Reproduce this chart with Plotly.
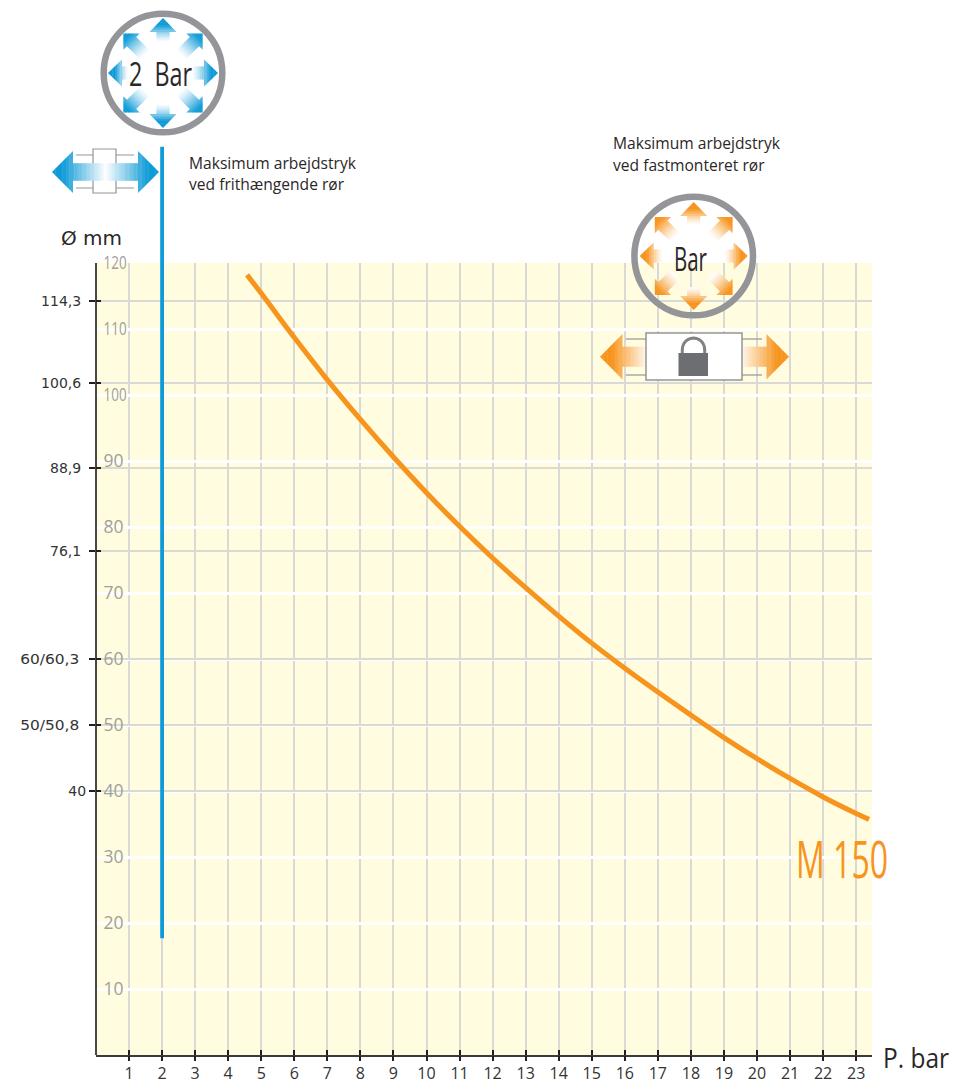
import math
import plotly.graph_objects as go

W, H = 960, 1084
L, R, T, B = 96, 872, 263, 1055

x_ticks = list(range(1, 24))
y_ticks = list(range(10, 121, 10))
pipe_vals = [40, 50, 60, 76.3, 89, 101.8, 114.3]
pipe_text = ["40", "50/50,8", "60/60,3", "76,1", "88,9", "100,6", "114,3"]

curve_x = [4.57, 5, 6, 7, 8, 9, 10, 11, 12, 13, 14, 15, 16, 17, 18, 19, 20, 21, 22, 23, 23.39]
curve_y = [118.2, 115.4, 108.7, 102.3, 96.3, 90.6, 85.2, 80.1, 75.3, 70.8, 66.5, 62.4, 58.6, 55.0, 51.5, 48.1, 44.9, 41.9, 39.1, 36.6, 35.7]
free_x = [2, 2]
free_y = [137.6, 17.7]

BLUE = "#0f9bd7"
ORANGE = "#f7941d"
GREY = "#939598"
BG = "#fffcdf"
GRID = "#d9d9d6"
TXT = "#2b2728"

fig = go.Figure()
fig.add_trace(go.Scatter(x=curve_x, y=curve_y, mode="lines", line=dict(color=ORANGE, width=5, shape="spline"),
                         showlegend=False, hoverinfo="skip"))
fig.add_trace(go.Scatter(x=[None], y=[None], yaxis="y2", showlegend=False, hoverinfo="skip"))
fig.add_trace(go.Scatter(x=[None], y=[None], xaxis="x2", yaxis="y3", showlegend=False, hoverinfo="skip"))

shapes, annos = [], []

# the free-hanging limit rises above the plot area, so it is a shape on the x axis scale
shapes.append(dict(type="line", xref="x", yref="paper", x0=free_x[0], x1=free_x[1],
                   y0=free_y[0] / 120, y1=free_y[1] / 120, line=dict(color=BLUE, width=3.8), layer="above"))

def px(x, y):
    return dict(xref="paper", yref="paper", x=(x - L) / (R - L), y=(B - y) / (B - T))

def poly(points, fill=None):
    d = "M" + " L".join(f"{(x-L)/(R-L):.5f},{(B-y)/(B-T):.5f}" for x, y in points) + " Z"
    shapes.append(dict(type="path", xref="paper", yref="paper", path=d, fillcolor=fill,
                       line=dict(width=0), layer="above"))

def mix(c, t):
    c = c.lstrip("#")
    rgb = [int(c[i:i+2], 16) for i in (0, 2, 4)]
    return "rgb(" + ",".join(str(round(255 + (v - 255) * t)) for v in rgb) + ")"

def arrow(cx, cy, ang, r0, r1, shaft, head, headlen, color, n=18, tmin=0.0, power=1.3):
    a = math.radians(ang)
    ux, uy = math.cos(a), math.sin(a)
    vx, vy = -uy, ux
    P = lambda s, w: (cx + ux * s + vx * w, cy + uy * s + vy * w)
    neck = r1 - headlen
    full_at = neck + headlen * 0.5
    def width(s):
        return shaft if s < neck else head * (r1 - s) / headlen
    for i in range(n):
        s0 = r0 + (neck - r0) * i / n
        s1 = r0 + (neck - r0) * (i + 1) / n + 0.35
        t = tmin + (1 - tmin) * (((s0 + s1) / 2 - r0) / (full_at - r0)) ** power
        poly([P(s0, -shaft), P(s1, -shaft), P(s1, shaft), P(s0, shaft)], fill=mix(color, t))
    m = 6
    for i in range(m):
        s0 = neck + headlen * i / m
        s1 = neck + headlen * (i + 1) / m
        t = min(1.0, tmin + (1 - tmin) * (((s0 + s1) / 2 - r0) / (full_at - r0)) ** power)
        s1b = min(r1, s1 + 0.35)
        poly([P(s0, -width(s0)), P(s1b, -width(s1b)), P(s1b, width(s1b)), P(s0, width(s0))], fill=mix(color, t))

def ring(cx, cy, r, lw):
    shapes.append(dict(type="circle", xref="paper", yref="paper", x0=(cx-r-L)/(R-L), x1=(cx+r-L)/(R-L),
                       y0=(B-cy-r)/(B-T), y1=(B-cy+r)/(B-T), fillcolor="rgba(0,0,0,0)",
                       line=dict(color=GREY, width=lw), layer="above"))

def rect(x0, y0, x1, y1, fill, line, lw):
    shapes.append(dict(type="rect", xref="paper", yref="paper", x0=(x0-L)/(R-L), x1=(x1-L)/(R-L),
                       y0=(B-y1)/(B-T), y1=(B-y0)/(B-T), fillcolor=fill,
                       line=dict(color=line, width=lw), layer="above"))

def seg(x0, y0, x1, y1, color, lw):
    shapes.append(dict(type="line", xref="paper", yref="paper", x0=(x0-L)/(R-L), x1=(x1-L)/(R-L),
                       y0=(B-y0)/(B-T), y1=(B-y1)/(B-T), line=dict(color=color, width=lw), layer="above"))

def text(x, y, s, size, color=TXT, family="Open Sans"):
    annos.append(dict(**px(x - 2, y), text=s, showarrow=False, xanchor="left", yanchor="middle",
                      font=dict(size=size, color=color, family=family), align="left"))

# blue pressure icon
ring(163, 73, 59.3, 6.5)
for ang in (45, 90, 135, 225, 270, 315):
    r1 = 55 if ang % 90 == 0 else 56
    r0 = 31 if ang % 90 == 0 else 25
    arrow(163, 73, ang, r0, r1, 6.5, 13.5 if ang % 90 == 0 else 11.5, 14 if ang % 90 == 0 else 11.5, BLUE)
arrow(163, 73, 0, 29, 55, 6.5, 13.5, 14, BLUE)
arrow(163, 73, 180, 35, 55, 6.5, 13.5, 14, BLUE)

# free pipe icon
for y in (155, 188):
    seg(76, y, 93, y, GREY, 1)
    seg(116, y, 134, y, GREY, 1)
rect(93, 149, 116, 193, "white", GREY, 1.2)
arrow(105.5, 172, 0, 0, 53.5, 8.8, 21, 21, BLUE, n=20, power=1.0)
arrow(105.5, 172, 180, 0, 53.5, 8.8, 21, 21, BLUE, n=20, power=1.0)

# orange pressure icon
ring(693.7, 256, 59.3, 6.5)
for ang in range(0, 360, 45):
    r1 = 54 if ang % 90 == 0 else 55
    r0 = 31 if ang % 90 == 0 else 26
    arrow(693.7, 256, ang, r0, r1, 6.5, 13.5 if ang % 90 == 0 else 11.5, 14 if ang % 90 == 0 else 11.5, ORANGE)

# fixed pipe icon
arrow(646, 356.7, 180, 0, 46, 10, 22.7, 22.5, ORANGE, tmin=0.08, power=1.0)
arrow(742, 356.7, 0, 0, 47, 10, 22.7, 22.5, ORANGE, tmin=0.08, power=1.0)
for y in (339, 375):
    seg(626, y, 646, y, GREY, 1.2)
    seg(742, y, 762, y, GREY, 1.2)
rect(646, 333, 742, 380, "white", GREY, 1.5)
# padlock
arc = [(693.5 + 11.2 * math.cos(math.radians(t)), 349.5 + 11.5 * math.sin(math.radians(t))) for t in range(180, 361, 15)]
shapes.append(dict(type="path", xref="paper", yref="paper", layer="above", fillcolor="rgba(0,0,0,0)",
                   line=dict(color="#808285", width=3),
                   path="M" + " L".join(f"{(x-L)/(R-L):.5f},{(B-y)/(B-T):.5f}" for x, y in arc)))
seg(682.3, 349, 682.3, 354, "#808285", 3)
seg(704.7, 349, 704.7, 354, "#808285", 3)
rect(678.5, 353, 708, 376, "#6d6e71", "#6d6e71", 0)

text(129, 73, "2&nbsp;&nbsp;Bar", 32)
text(674, 258, "Bar", 32)
text(796, 857, "M 150", 52, color=ORANGE)
text(189, 163, "Maksimum arbejdstryk", 15.6)
text(189, 184, "ved frithængende rør", 15.6)
text(613, 143, "Maksimum arbejdstryk", 15.6)
text(613, 165, "ved fastmonteret rør", 15.6)
text(61, 238, "Ø mm", 20, family="DejaVu Sans")
text(883, 1057, "P. bar", 28)

fig.update_layout(
    width=W, height=H, autosize=False,
    margin=dict(l=L, r=W - R, t=T, b=H - B, autoexpand=False),
    paper_bgcolor="white", plot_bgcolor=BG,
    font=dict(family="Open Sans", color=TXT),
    showlegend=False,
    xaxis=dict(range=[0, (R - L) / 33.05], tickvals=x_ticks, ticktext=[str(v) for v in x_ticks],
               ticks="inside", ticklen=5, tickwidth=1.5, tickcolor="#231f20", automargin=False,
               showgrid=True, gridcolor=GRID, gridwidth=2, zeroline=False,
               showline=True, linecolor="#3f3a3a", linewidth=2, tickfont=dict(size=16, color="#333333"),
               ticklabelstandoff=3),
    xaxis2=dict(range=[0, (R - L) / 33.05], overlaying="x", anchor="y", side="bottom", tickvals=x_ticks,
                showticklabels=False, ticks="outside", ticklen=5, tickwidth=1.5, tickcolor="#231f20",
                showgrid=False, zeroline=False, automargin=False),
    yaxis=dict(range=[0, 120], tickvals=y_ticks, ticktext=[str(v) for v in y_ticks],
               anchor="free", position=0, side="right", ticks="", showgrid=True, gridcolor="white", gridwidth=3,
               zeroline=False, showline=True, linecolor="#4a4747", linewidth=2.2, automargin=False,
               tickfont=dict(size=17.5, color="#9f9f9c"), ticklabelstandoff=3),
    yaxis2=dict(range=[0, 120], overlaying="y", side="left", anchor="x", tickvals=pipe_vals, ticktext=pipe_text,
                ticks="outside", ticklen=6, tickwidth=1.5, tickcolor="#231f20", automargin=False,
                showgrid=True, gridcolor=GRID, gridwidth=1.5, zeroline=False,
                tickfont=dict(size=14, color="#333333", family="DejaVu Sans"), ticklabelstandoff=5),
    yaxis3=dict(range=[0, 120], overlaying="y", side="left", anchor="x", tickvals=pipe_vals,
                showticklabels=False, ticks="inside", ticklen=5, tickwidth=1.5, tickcolor="#231f20",
                showgrid=False, zeroline=False, automargin=False),
    shapes=shapes, annotations=annos,
)

# Condensed type is not installed: squeeze the wide labels to the reference's widths, as real text.
post = """
document.body.style.margin = '0';
const widths = {'M 150': 92, 'P. bar': 66, 'Bar': 33};
document.querySelectorAll('.annotation-text').forEach(t => {
  const s = t.textContent.replace(/\\u00a0/g, ' ');
  const w = s === '2  Bar' ? 63 : widths[s];
  if (w) { t.setAttribute('textLength', w); t.setAttribute('lengthAdjust', 'spacingAndGlyphs'); }
});
document.querySelectorAll('.ytick text').forEach(t => {
  if (t.textContent.length === 3) { t.setAttribute('textLength', 23); t.setAttribute('lengthAdjust', 'spacingAndGlyphs'); }
});
document.querySelectorAll('.y2tick text').forEach(t => {
  const s = t.textContent;
  if (s.length === 7) { t.setAttribute('dx', '-2'); t.setAttribute('textLength', 59); t.setAttribute('lengthAdjust', 'spacingAndGlyphs'); }
  if (s === '40') { t.setAttribute('dx', '5'); }
});
"""
fig.write_html("out.html", post_script=post, config={"displayModeBar": False})
